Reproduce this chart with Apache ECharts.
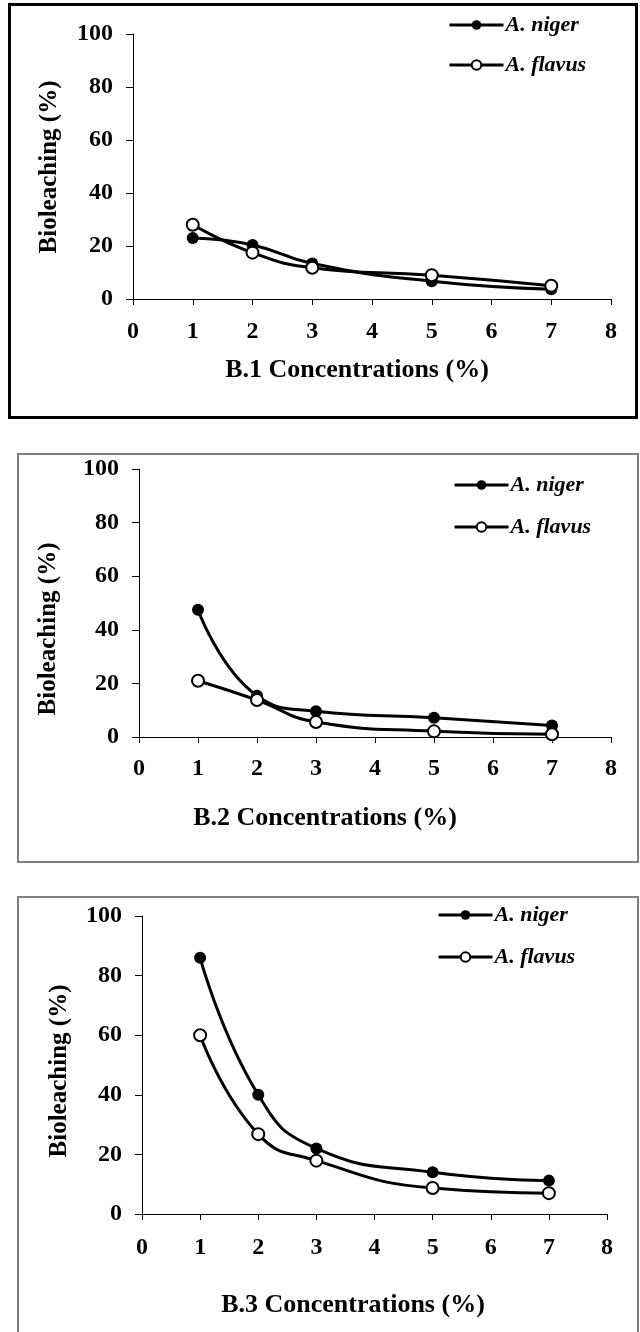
<!DOCTYPE html>
<html>
<head>
<meta charset="utf-8">
<script src="https://cdn.jsdelivr.net/npm/echarts@6/dist/echarts.min.js"></script>
<style>
  html, body { margin: 0; padding: 0; background: #fff; }
  #box { width: 640px; height: 1332px; }
</style>
</head>
<body>
<div id="box"></div>
<script>
  // concentrations (%) on the x axis
  const concentrations = [1, 2, 3, 5, 7];
  const seriesNames = ['A. niger', 'A. flavus'];
  // bioleaching (%)
  const nigerB1 = [23, 20.4, 13.4, 6.7, 3.7];
  const flavusB1 = [28, 17.5, 11.8, 9, 5];
  const nigerB2 = [47.5, 15.4, 9.6, 7.2, 4.3];
  const flavusB2 = [21, 13.8, 5.6, 2.1, 1];
  const nigerB3 = [86, 40, 22, 14, 11.2];
  const flavusB3 = [60, 26.8, 17.9, 8.7, 7];
  const xTitles = ['B.1 Concentrations (%)', 'B.2 Concentrations (%)', 'B.3 Concentrations (%)'];
  const yTitle = 'Bioleaching (%)';

  const font = '"Liberation Serif", "Times New Roman", serif';

  // panel geometry (pixels)
  const panels = [
    { grid: { left: 133, top: 34, width: 478, height: 265 }, xt: [357, 370], yt: [50, 167], leg: [448, 14], gap: 18, lm: 21,
      frame: { x: 9.5, y: 4.5, width: 627, height: 413 }, frameColor: '#000', frameWidth: 3 },
    { grid: { left: 139, top: 469, width: 472, height: 268 }, xt: [325, 818], yt: [49, 629], leg: [453, 474], gap: 20, lm: 20,
      frame: { x: 18, y: 454, width: 620, height: 408 }, frameColor: '#808080', frameWidth: 2 },
    { grid: { left: 142, top: 916, width: 465, height: 298 }, xt: [353, 1305], yt: [60, 1071], leg: [437, 904], gap: 20, lm: 22,
      frame: { x: 18, y: 897, width: 620, height: 460 }, frameColor: '#808080', frameWidth: 2 }
  ];
  const data = [[nigerB1, flavusB1], [nigerB2, flavusB2], [nigerB3, flavusB3]];

  const pairs = arr => concentrations.map((c, i) => [c, arr[i]]);

  const myChart = echarts.init(document.getElementById('box'));
  const axisLabel = { color: '#000', fontFamily: font, fontWeight: 'bold', fontSize: 24 };

  let option = {
    animation: false,
    backgroundColor: '#fff',
    grid: panels.map(p => p.grid),
    xAxis: panels.map((p, i) => ({
      type: 'value', gridIndex: i, min: 0, max: 8, interval: 1,
      splitLine: { show: false },
      axisLine: { show: true, onZero: false, lineStyle: { color: '#000', width: 1 } },
      axisTick: { show: true, length: 6, lineStyle: { color: '#000' } },
      axisLabel: Object.assign({ margin: p.lm }, axisLabel)
    })),
    yAxis: panels.map((p, i) => ({
      type: 'value', gridIndex: i, min: 0, max: 100, interval: 20,
      splitLine: { show: false },
      axisLine: { show: true, lineStyle: { color: '#000', width: 1 } },
      axisTick: { show: true, length: 7, lineStyle: { color: '#000' } },
      axisLabel: Object.assign({ margin: 20 }, axisLabel)
    })),
    legend: panels.map(p => ({
      orient: 'vertical', left: p.leg[0], top: p.leg[1], padding: 0,
      itemWidth: 54, itemHeight: 12, itemGap: p.gap,
      selectedMode: false,
      lineStyle: { width: 3 },
      textStyle: { color: '#000', fontFamily: font, fontStyle: 'italic', fontWeight: 'bold', fontSize: 22, padding: [0, 0, 0, -3] },
      data: seriesNames
    })),
    series: [],
    graphic: []
  };

  data.forEach((d, i) => {
    option.series.push({
      name: seriesNames[0], type: 'line', xAxisIndex: i, yAxisIndex: i, smooth: true,
      symbol: 'circle', symbolSize: 12,
      lineStyle: { color: '#000', width: 3 },
      itemStyle: { color: '#000' },
      data: pairs(d[0])
    });
    option.series.push({
      name: seriesNames[1], type: 'line', xAxisIndex: i, yAxisIndex: i, smooth: true,
      symbol: 'emptyCircle', symbolSize: 12,
      lineStyle: { color: '#000', width: 3 },
      itemStyle: { color: '#000', borderWidth: 2.5 },
      data: pairs(d[1])
    });
  });

  panels.forEach((p, i) => {
    option.graphic.push({
      type: 'rect', shape: p.frame, z: -1,
      style: { fill: 'none', stroke: p.frameColor, lineWidth: p.frameWidth }
    });
    option.graphic.push({
      type: 'text', x: p.xt[0], y: p.xt[1],
      style: { text: xTitles[i], fill: '#000', font: 'bold 26px ' + font, align: 'center', verticalAlign: 'middle' }
    });
    option.graphic.push({
      type: 'text', x: p.yt[0], y: p.yt[1], rotation: Math.PI / 2,
      style: { text: yTitle, fill: '#000', font: 'bold 25px ' + font, align: 'center', verticalAlign: 'middle' }
    });
  });

  myChart.setOption(option);
</script>
</body>
</html>
